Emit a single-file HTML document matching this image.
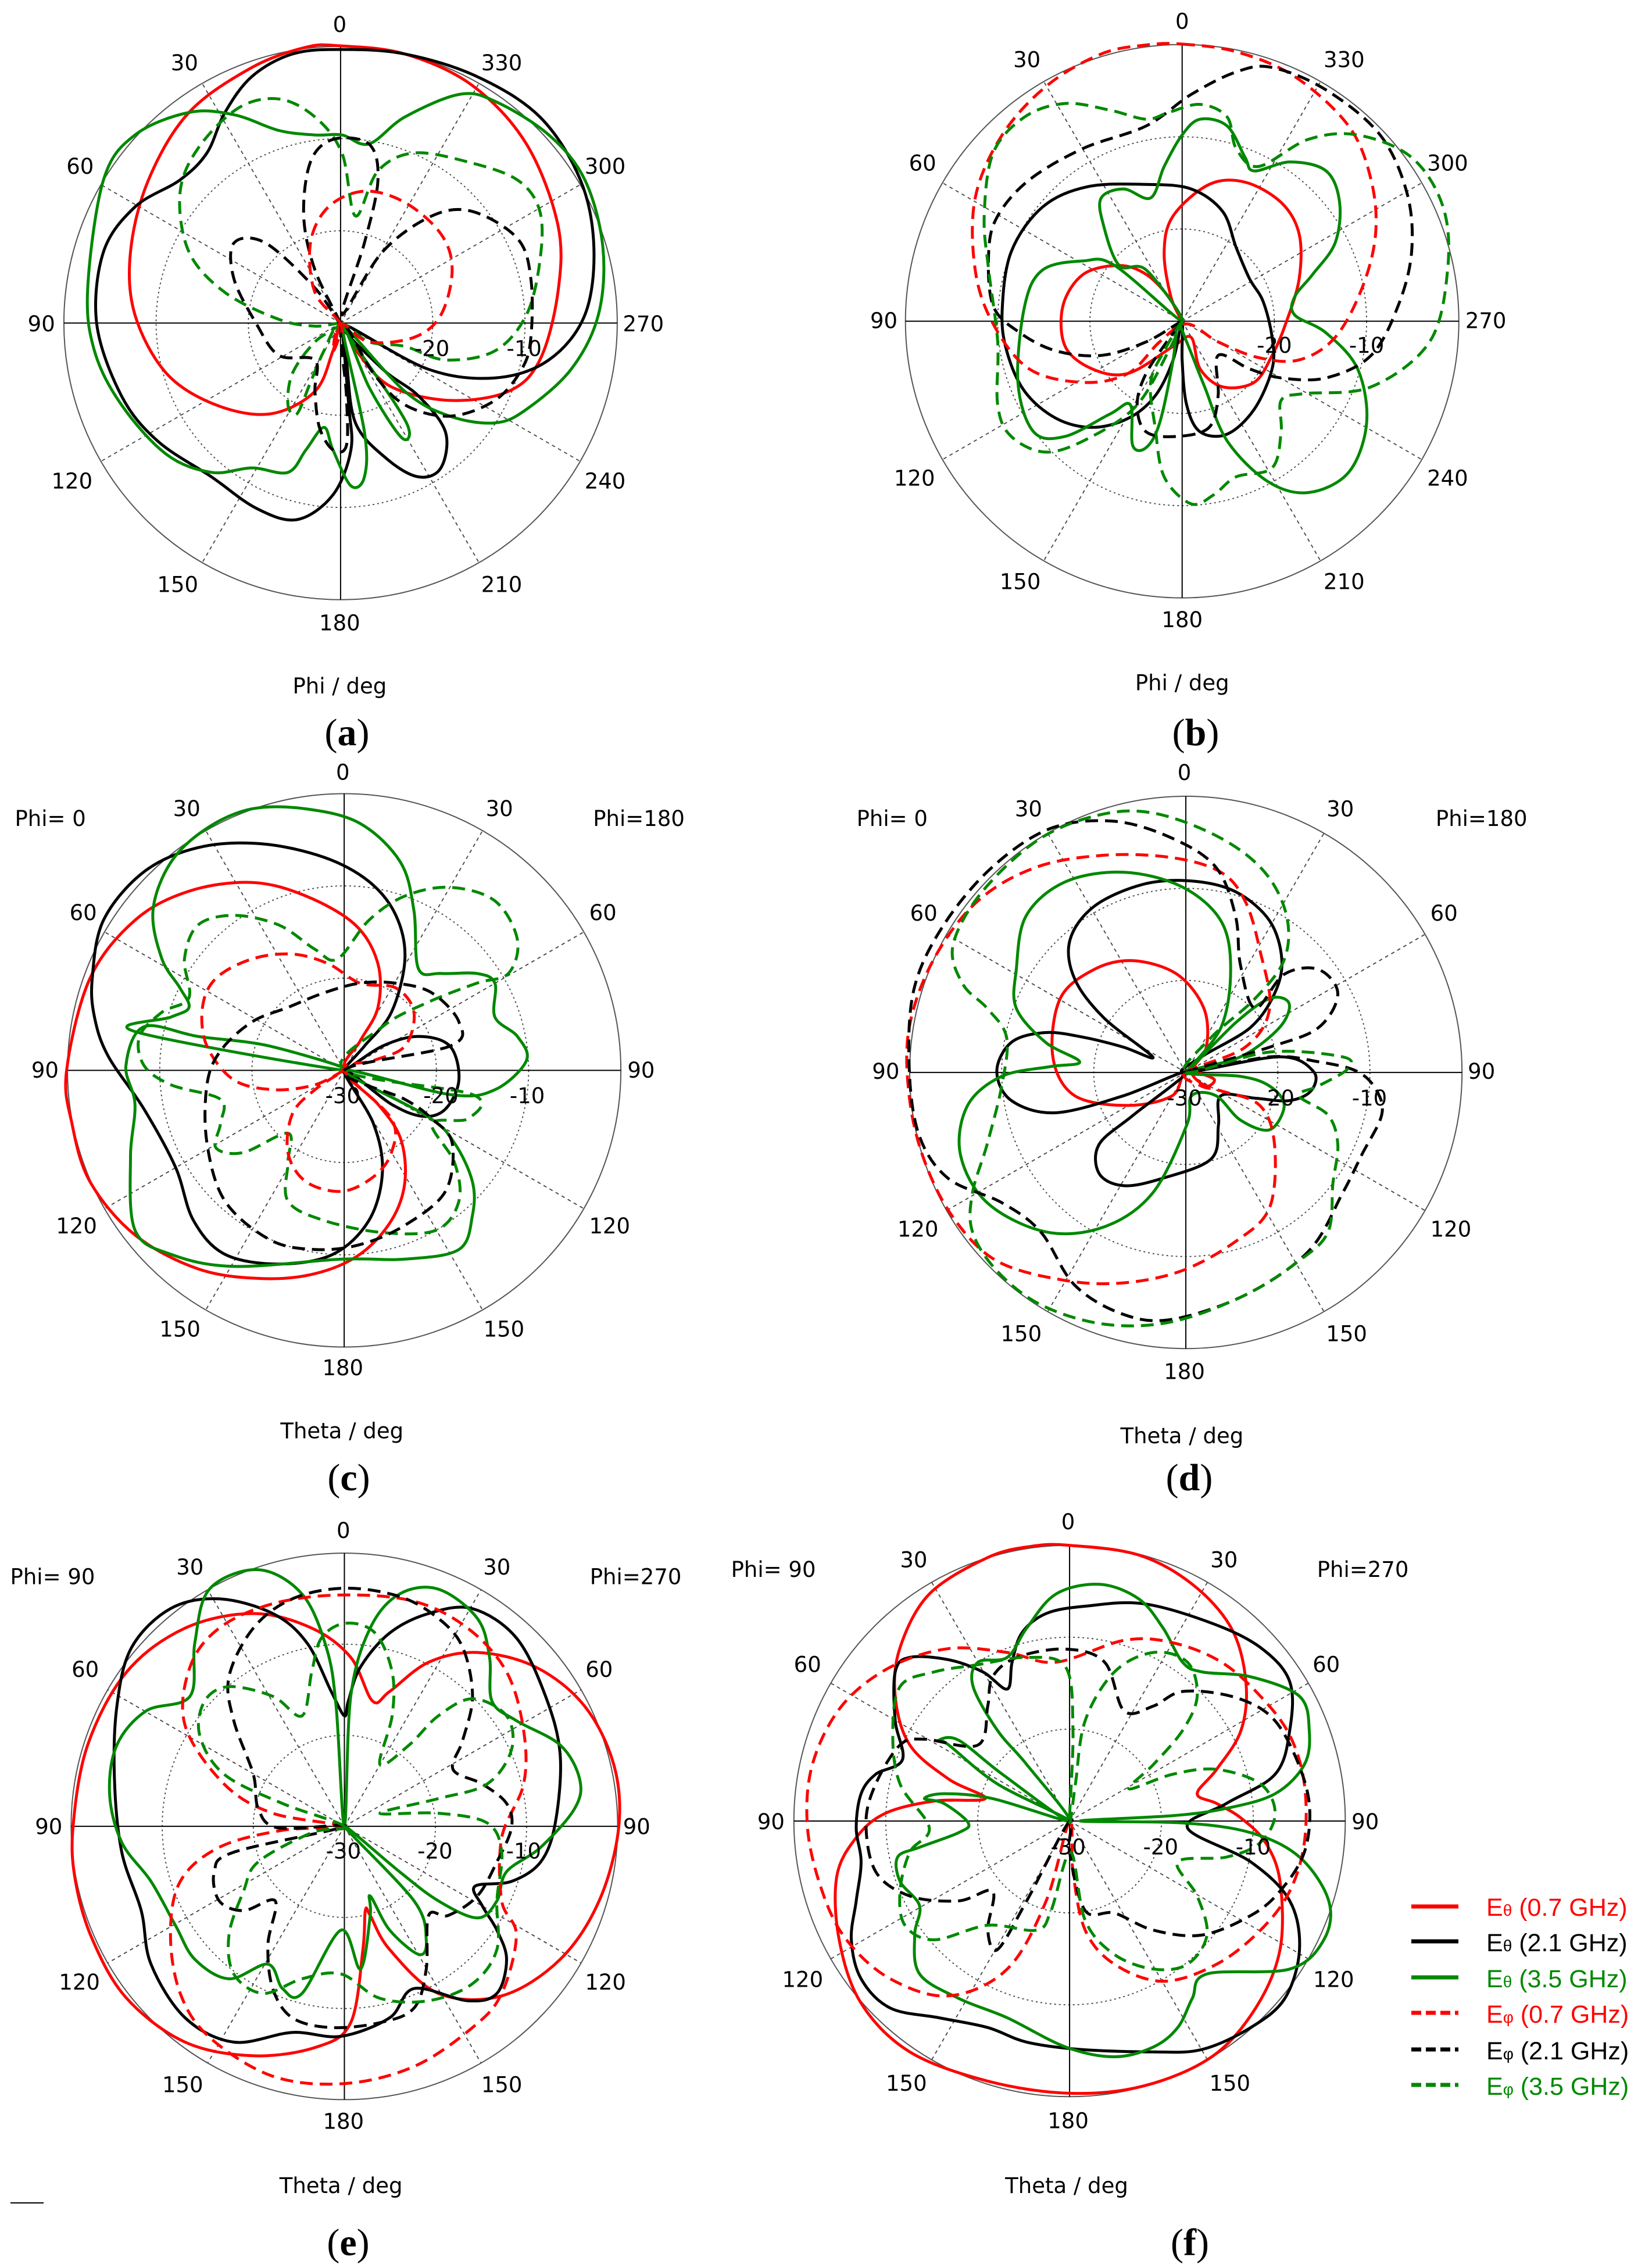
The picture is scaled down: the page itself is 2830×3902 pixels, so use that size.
<!DOCTYPE html>
<html><head><meta charset="utf-8">
<style>
html,body{margin:0;padding:0;background:#fff;}
svg{display:block;}
text{font-family:"DejaVu Sans","Liberation Sans",sans-serif;}
</style></head>
<body>
<svg id="s" xmlns="http://www.w3.org/2000/svg" width="2830" height="3902" viewBox="0 0 2830 3902">
<rect width="2830" height="3902" fill="#fff"/>
<g id="g"></g>
<!-- captions -->
<g font-family="Liberation Serif, serif" font-size="66" text-anchor="middle">
<text x="597" y="1282" style="font-family:'Liberation Serif',serif">(<tspan font-weight="bold">a</tspan>)</text>
<text x="2057" y="1282" style="font-family:'Liberation Serif',serif">(<tspan font-weight="bold">b</tspan>)</text>
<text x="600" y="2564" style="font-family:'Liberation Serif',serif">(<tspan font-weight="bold">c</tspan>)</text>
<text x="2046" y="2564" style="font-family:'Liberation Serif',serif">(<tspan font-weight="bold">d</tspan>)</text>
<text x="599" y="3880" style="font-family:'Liberation Serif',serif">(<tspan font-weight="bold">e</tspan>)</text>
<text x="2047" y="3880" style="font-family:'Liberation Serif',serif">(<tspan font-weight="bold">f</tspan>)</text>
</g>
<line x1="18" y1="3790" x2="75" y2="3790" stroke="#000" stroke-width="2"/>
<!-- legend -->
<g stroke-width="7">
<line x1="2428" y1="3280" x2="2509" y2="3280" stroke="#f00"/>
<line x1="2428" y1="3340" x2="2509" y2="3340" stroke="#000"/>
<line x1="2428" y1="3402" x2="2509" y2="3402" stroke="#080"/>
<line x1="2428" y1="3463" x2="2509" y2="3463" stroke="#f00" stroke-dasharray="17 8"/>
<line x1="2428" y1="3526" x2="2509" y2="3526" stroke="#000" stroke-dasharray="17 8"/>
<line x1="2428" y1="3587" x2="2509" y2="3587" stroke="#080" stroke-dasharray="17 8"/>
</g>
<g font-size="43" style="font-family:'Liberation Sans',sans-serif">
<text x="2557" y="3296" fill="#f00" style="font-family:'Liberation Sans',sans-serif">E<tspan font-size="28">θ</tspan> (0.7 GHz)</text>
<text x="2557" y="3357" fill="#000" style="font-family:'Liberation Sans',sans-serif">E<tspan font-size="28">θ</tspan> (2.1 GHz)</text>
<text x="2557" y="3419" fill="#080" style="font-family:'Liberation Sans',sans-serif">E<tspan font-size="28">θ</tspan> (3.5 GHz)</text>
<text x="2557" y="3480" fill="#f00" style="font-family:'Liberation Sans',sans-serif">E<tspan font-size="28">φ</tspan> (0.7 GHz)</text>
<text x="2557" y="3543" fill="#000" style="font-family:'Liberation Sans',sans-serif">E<tspan font-size="28">φ</tspan> (2.1 GHz)</text>
<text x="2557" y="3604" fill="#080" style="font-family:'Liberation Sans',sans-serif">E<tspan font-size="28">φ</tspan> (3.5 GHz)</text>
</g>
</svg>
<script>
var NS="http://www.w3.org/2000/svg",G=document.getElementById("g");
function el(t,a,txt){var e=document.createElementNS(NS,t);for(var k in a)e.setAttribute(k,a[k]);if(txt!=null)e.textContent=txt;G.appendChild(e);return e;}
function cr(P){var n=P.length,d="M"+P[0][0].toFixed(1)+","+P[0][1].toFixed(1);
for(var i=0;i<n;i++){var p0=P[(i-1+n)%n],p1=P[i],p2=P[(i+1)%n],p3=P[(i+2)%n];
var c1=[p1[0]+(p2[0]-p0[0])/6,p1[1]+(p2[1]-p0[1])/6],c2=[p2[0]-(p3[0]-p1[0])/6,p2[1]-(p3[1]-p1[1])/6];
d+="C"+c1[0].toFixed(1)+","+c1[1].toFixed(1)+" "+c2[0].toFixed(1)+","+c2[1].toFixed(1)+" "+p2[0].toFixed(1)+","+p2[1].toFixed(1);}
return d+"Z";}
var COL={r:"#f00",k:"#000",g:"#080"};
function panel(p){
 var T=function(q){return [p.ox+q[0]*p.sx,p.oy+q[1]*p.sy];};
 var c=T([p.cx,p.cy]),R=p.R*p.sx;
 el("circle",{cx:c[0],cy:c[1],r:R,fill:"none",stroke:"#555","stroke-width":2});
 [1/3,2/3].forEach(function(f){el("circle",{cx:c[0],cy:c[1],r:R*f,fill:"none",stroke:"#444","stroke-width":1.8,"stroke-dasharray":"3 5"});});
 for(var a=30;a<360;a+=30){if(a%90==0)continue;var t=a*Math.PI/180;
  el("line",{x1:c[0],y1:c[1],x2:c[0]+R*Math.sin(t),y2:c[1]-R*Math.cos(t),stroke:"#444","stroke-width":1.8,"stroke-dasharray":"6 6"});}
 el("line",{x1:c[0]-R,y1:c[1],x2:c[0]+R,y2:c[1],stroke:"#000","stroke-width":2});
 el("line",{x1:c[0],y1:c[1]-R,x2:c[0],y2:c[1]+R,stroke:"#000","stroke-width":2});
 p.curves.forEach(function(cv){var P=cv[2].map(T);
  var a={d:cr(P),fill:"none",stroke:COL[cv[0]],"stroke-width":5,"stroke-linejoin":"round"};
  if(cv[1])a["stroke-dasharray"]="22 12";el("path",a);});
 p.labels.forEach(function(l){var q=T([l[1],l[2]]);
  el("text",{x:q[0],y:q[1],"text-anchor":"middle","dominant-baseline":"central","font-size":l[3]||37,fill:"#000"},l[0]);});
}
var degA=[["0",755,55],["30",410,140],["330",1115,140],["60",178,370],["300",1345,370],["90",92,720],["270",1430,720],["120",160,1070],["240",1345,1070],["150",395,1300],["210",1115,1300],["180",755,1385],["-20",960,775],["-10",1165,775],["Phi / deg",755,1525]];
panel({ox:0,oy:0,sx:0.774,sy:0.774,cx:757,cy:718,R:615,labels:degA,curves:[
["r",0,[[757,102],[900,120],[1050,190],[1170,320],[1240,500],[1240,650],[1200,800],[1130,870],[1000,890],[870,860],[800,790],[760,720],[740,780],[700,870],[600,920],[480,900],[370,830],[300,700],[290,560],[330,400],[420,250],[560,150],[680,105]]],
["k",0,[[757,110],[900,120],[1060,170],[1200,260],[1290,400],[1320,550],[1300,700],[1220,800],[1100,840],[950,820],[760,720],[850,820],[930,880],[990,960],[980,1040],[930,1060],[860,1020],[790,940],[770,800],[760,720],[775,900],[780,1000],[740,1100],[660,1155],[570,1130],[470,1060],[350,980],[270,880],[215,720],[230,560],[300,460],[400,400],[460,340],[500,250],[560,170],[650,120]]],
["g",0,[[195,640],[230,400],[300,300],[420,250],[520,255],[620,290],[700,300],[760,300],[820,320],[900,260],[1020,210],[1100,225],[1220,300],[1300,400],[1340,550],[1330,700],[1270,820],[1170,910],[1100,940],[1000,925],[900,870],[760,720],[880,900],[910,960],[890,970],[820,860],[760,720],[810,960],[810,1060],[780,1080],[740,1000],[720,950],[680,1000],[640,1050],[560,1040],[470,1050],[370,1010],[270,900],[210,780]]],
["g",1,[[757,720],[700,725],[620,710],[500,650],[420,560],[400,430],[440,330],[530,240],[620,220],[700,260],[760,340],[790,480],[840,380],[920,340],[1040,360],[1150,400],[1200,470],[1200,580],[1170,700],[1100,780],[990,800],[900,770],[820,760],[757,720],[720,780],[690,850],[660,920],[640,900],[650,830],[700,760]]],
["k",1,[[757,720],[700,600],[675,480],[690,360],[740,310],[820,320],[840,400],[810,540],[760,700],[850,560],[960,480],[1050,470],[1150,530],[1180,620],[1180,750],[1160,820],[1100,890],[1000,925],[900,900],[830,830],[760,720],[770,880],[770,990],[740,1000],[710,950],[700,870],[700,800],[620,790],[570,720],[520,620],[520,540],[590,540],[700,640]]],
["r",1,[[757,720],[700,650],[690,540],[730,460],[810,425],[900,450],[980,520],[1005,600],[980,700],[920,750],[820,760],[757,720],[740,780],[750,760]]]
]});
var degB=degA.map(function(l){return [l[0],l[1]+25,l[2]-7];});
panel({ox:1430,oy:0,sx:0.774,sy:0.774,cx:780,cy:714,R:615,labels:degB,curves:[
["r",0,[[780,714],[750,660],[700,610],[640,590],[560,610],[515,680],[520,770],[580,820],[660,830],[760,770],[800,750],[820,820],[870,860],[940,850],[980,790],[1010,720],[1040,620],[1040,520],[1000,450],[920,405],[840,410],[760,480],[740,560],[755,660]]],
["k",0,[[380,690],[400,560],[470,460],[570,415],[700,410],[800,420],[870,470],[900,550],[930,620],[960,670],[980,750],[980,820],[940,910],[880,965],[820,960],[790,900],[780,800],[780,714],[760,800],[720,880],[660,930],[580,950],[500,930],[430,870],[390,780]]],
["g",0,[[780,714],[700,600],[640,590],[605,500],[600,440],[650,420],[710,440],[740,370],[780,300],[820,265],[880,280],[920,350],[940,380],[1020,360],[1100,380],[1130,450],[1120,540],[1070,610],[1030,660],[1030,700],[1100,740],[1170,820],[1190,940],[1150,1050],[1060,1095],[970,1070],[880,980],[830,860],[790,760],[770,720],[760,800],[730,940],[700,995],[670,990],[665,900],[620,920],[520,970],[450,960],[415,850],[430,680],[470,600],[560,580],[630,590]]],
["r",1,[[780,98],[900,115],[1030,170],[1150,280],[1200,400],[1210,520],[1180,640],[1120,750],[1040,800],[950,795],[860,760],[790,720],[730,760],[660,830],[560,850],[440,820],[360,720],[320,600],[320,440],[380,300],[480,190],[600,120],[700,100]]],
["k",1,[[780,714],[700,760],[600,790],[500,780],[420,740],[360,680],[350,560],[370,480],[440,400],[560,330],[700,280],[800,210],[900,160],[980,150],[1100,200],[1220,300],[1280,430],[1290,560],[1260,680],[1200,790],[1100,840],[1000,840],[930,820],[860,790],[860,880],[840,950],[770,970],[700,960],[680,900],[700,830],[760,740]]],
["g",1,[[780,714],[740,780],[710,850],[720,950],[740,1060],[800,1120],[850,1100],[900,1060],[980,1040],[1000,960],[1000,890],[1050,875],[1200,860],[1330,760],[1370,600],[1360,460],[1290,350],[1170,300],[1060,310],[950,370],[900,330],[880,260],[820,232],[750,250],[700,265],[620,245],[520,230],[430,260],[360,340],[340,480],[350,600],[370,760],[370,900],[400,970],[480,1005],[580,970],[680,900],[750,780]]]
]});
panel({ox:0,oy:1300,sx:0.774,sy:0.833,cx:765,cy:650,R:615,labels:[["0",762,35],["30",415,110],["30",1110,110],["Phi=  0",112,130],["Phi=180",1420,130],["60",185,325],["60",1340,325],["90",100,650],["90",1425,650],["120",170,972],["120",1355,972],["150",400,1185],["150",1120,1185],["180",762,1265],["-30",762,703],["-20",980,703],["-10",1172,703],["Theta / deg",760,1395]],curves:[
["r",0,[[148,650],[200,460],[300,340],[420,280],[560,262],[680,290],[790,350],[840,430],[840,520],[800,590],[765,650],[840,720],[890,790],[900,880],[870,960],[800,1030],[700,1070],[580,1080],[440,1060],[300,990],[200,880],[160,760]]],
["k",0,[[205,460],[230,340],[320,240],[440,190],[580,182],[720,210],[820,260],[880,330],[900,420],[870,530],[810,600],[765,650],[850,600],[930,580],[1000,600],[1020,670],[990,730],[940,745],[870,720],[765,650],[830,760],[850,860],[820,960],[740,1030],[620,1050],[500,1030],[430,960],[390,850],[320,730],[240,620],[210,540]]],
["g",0,[[765,650],[600,600],[440,580],[320,560],[280,640],[300,720],[290,830],[300,980],[380,1030],[520,1055],[760,1040],[900,1040],[1020,1020],[1050,950],[1050,880],[1010,800],[950,745],[765,650],[1000,700],[1100,690],[1170,630],[1150,580],[1100,540],[1100,470],[1060,450],[980,450],[930,440],[920,320],[890,220],[800,140],[680,110],[560,110],[460,150],[380,220],[340,320],[360,420],[400,480],[420,520],[380,540],[300,570]]],
["g",1,[[765,650],[850,560],[950,510],[1060,470],[1130,450],[1150,380],[1100,300],[1000,272],[900,290],[820,340],[750,420],[700,400],[620,350],[520,330],[440,350],[410,420],[420,500],[360,530],[310,580],[320,640],[380,680],[490,710],[490,760],[480,810],[540,820],[640,780],[640,840],[640,920],[720,960],[850,985],[970,980],[1020,920],[1010,840],[960,760],[1040,750],[1050,700]]],
["r",1,[[765,650],[700,680],[610,690],[520,670],[460,600],[450,520],[480,460],[560,420],[650,410],[730,430],[800,470],[880,480],[920,530],[900,600],[830,630],[765,650],[870,750],[870,820],[830,870],[760,900],[680,880],[640,820],[650,740],[700,690]]],
["k",1,[[765,650],[1000,600],[1020,550],[960,490],[880,470],[800,470],[720,490],[640,520],[560,550],[490,610],[460,680],[460,800],[500,920],[600,1000],[700,1020],[800,1010],[900,970],[990,900],[1005,800],[960,750],[900,710]]]
]});
panel({ox:1430,oy:1300,sx:0.838,sy:0.836,cx:728,cy:652,R:567,labels:[["0",725,35],["30",405,110],["30",1045,110],["Phi=  0",125,130],["Phi=180",1335,130],["60",190,325],["60",1258,325],["90",112,650],["90",1335,650],["120",178,975],["120",1272,975],["150",390,1190],["150",1058,1190],["180",725,1268],["-30",725,705],["-20",915,705],["-10",1105,705],["Theta / deg",720,1400]],curves:[
["r",0,[[728,652],[700,700],[610,720],[500,700],[455,620],[470,500],[540,440],[620,422],[710,450],[765,520],[770,600],[740,650],[770,680],[785,665]]],
["k",0,[[660,620],[560,540],[500,460],[490,380],[540,310],[640,265],[740,258],[830,280],[900,340],[925,420],[910,490],[860,560],[760,620],[728,652],[920,620],[990,650],[985,690],[940,710],[870,705],[800,700],[795,760],[780,830],[680,870],[600,885],[550,860],[550,800],[620,740],[728,652],[600,700],[460,735],[370,710],[340,650],[370,590],[440,570],[520,580],[600,600]]],
["g",0,[[728,652],[800,560],[820,440],[800,340],[720,270],[600,240],[480,260],[400,330],[380,440],[380,520],[440,590],[510,630],[450,640],[350,660],[280,720],[265,820],[320,920],[440,980],[560,970],[660,900],[730,760],[740,700],[790,700],[840,750],[900,770],[930,720],[900,680],[840,660],[728,652],[840,620],[920,560],[940,510],[900,500],[830,550]]],
["r",1,[[728,652],[850,600],[900,520],[880,400],[850,300],[800,240],[700,210],[560,205],[420,230],[300,300],[210,420],[160,560],[160,700],[190,830],[250,950],[340,1040],[480,1080],[600,1085],[720,1060],[830,1000],[900,930],[910,800],[880,720],[800,690],[760,680]]],
["k",1,[[728,652],[900,600],[1000,560],[1040,490],[1000,440],[930,450],[870,520],[840,430],[830,330],[790,230],[700,170],[580,135],[450,150],[330,230],[230,350],[170,480],[160,640],[180,780],[240,870],[350,920],[430,980],[500,1090],[600,1150],[700,1160],[850,1110],[980,1020],[1050,900],[1090,820],[1130,740],[1120,690],[1080,650],[1000,630],[900,620]]],
["g",1,[[728,652],[900,610],[1050,620],[1060,645],[1000,680],[960,700],[1020,740],[1040,800],[1030,880],[1020,980],[960,1040],[850,1110],[700,1165],[560,1170],[430,1130],[340,1060],[290,980],[290,900],[320,800],[350,680],[360,580],[320,520],[270,470],[250,390],[310,280],[430,170],[560,120],[670,120],[800,170],[890,240],[935,330],[930,420],[870,500],[780,580]]]
]});
panel({ox:0,oy:2600,sx:0.838,sy:0.838,cx:707,cy:647,R:561,labels:[["0",705,40],["30",390,115],["30",1020,115],["Phi= 90",108,135],["Phi=270",1305,135],["60",175,325],["60",1230,325],["90",100,648],["90",1307,648],["120",163,967],["120",1243,967],["150",375,1178],["150",1030,1178],["180",705,1253],["-30",705,698],["-20",893,698],["-10",1075,698],["Theta / deg",700,1385]],curves:[
["r",0,[[150,647],[180,480],[260,330],[380,240],[520,210],[640,240],[720,300],[765,390],[800,370],[880,310],[980,290],[1100,320],[1200,400],[1260,520],[1270,650],[1230,800],[1150,920],[1030,995],[900,990],[800,900],[760,830],[750,820],[745,900],[720,1050],[650,1100],[520,1118],[380,1090],[260,1000],[190,880],[155,760]]],
["k",0,[[707,420],[680,370],[630,270],[560,210],[450,180],[350,200],[270,280],[240,400],[235,550],[250,700],[290,820],[310,930],[380,1040],[480,1090],[600,1070],[700,1078],[800,1040],[850,980],[960,1005],[1020,990],[1040,920],[1020,860],[990,810],[975,770],[1050,760],[1110,720],[1140,640],[1150,500],[1120,380],[1060,260],[970,200],[880,210],[800,250],[740,320],[715,390]]],
["g",0,[[707,647],[690,400],[670,280],[620,170],[530,120],[430,160],[400,270],[390,380],[300,410],[240,480],[225,580],[250,680],[310,760],[360,850],[400,920],[470,960],[550,930],[580,980],[620,990],[700,860],[740,940],[760,830],[760,790],[800,860],[860,910],[875,880],[850,800],[707,647],[820,740],[900,800],[980,835],[1020,800],[1040,740],[1110,690],[1180,610],[1190,550],[1150,480],[1060,430],[1010,390],[1005,300],[980,220],[900,160],[820,170],[760,240],[720,380]]],
["r",1,[[707,647],[560,620],[460,560],[380,440],[390,320],[450,240],[560,190],[700,172],[850,185],[960,240],[1040,330],[1075,450],[1075,560],[1030,670],[1030,800],[1060,870],[1030,990],[970,1060],[850,1140],[707,1175],[560,1160],[430,1080],[370,990],[350,870],[370,760],[450,690],[580,655]]],
["k",1,[[707,647],[570,650],[530,610],[520,540],[480,430],[470,340],[520,240],[600,180],[707,158],[820,175],[900,220],[950,280],[970,380],[950,470],[930,530],[990,560],[1040,600],[1050,650],[1020,720],[980,790],[920,830],[880,830],[875,940],[850,1020],[780,1050],[680,1060],[600,1040],[560,980],[550,890],[565,800],[500,820],[450,800],[440,740],[480,700]]],
["g",1,[[707,647],[580,600],[460,540],[410,460],[420,390],[470,360],[560,380],[620,420],[640,330],[660,260],[710,230],[770,250],[805,330],[805,420],[780,520],[840,480],[900,420],[970,385],[1040,420],[1050,490],[1000,560],[900,590],[780,620],[900,620],[1000,640],[1030,700],[1020,800],[1020,900],[970,970],[880,1005],[780,1000],[700,950],[620,960],[540,990],[480,950],[470,870],[500,780],[530,720],[640,660]]]
]});
panel({ox:1230,oy:2600,sx:0.838,sy:0.838,cx:728,cy:636,R:566,labels:[["0",725,22],["30",408,100],["30",1045,100],["Phi= 90",120,120],["Phi=270",1330,120],["60",190,315],["60",1255,315],["90",115,638],["90",1335,638],["120",180,962],["120",1270,962],["150",393,1175],["150",1057,1175],["180",725,1252],["-30",725,690],["-20",915,690],["-10",1105,690],["Theta / deg",722,1385]],curves:[
["r",0,[[728,70],[870,90],[980,150],[1060,240],[1090,350],[1080,450],[1030,530],[990,580],[1030,600],[1080,630],[1130,680],[1160,760],[1160,900],[1110,1020],[1020,1120],[880,1180],[728,1195],[560,1170],[400,1110],[300,1010],[255,880],[250,750],[290,670],[350,620],[450,595],[555,590],[480,550],[400,480],[370,380],[380,280],[440,170],[560,95],[650,72]]],
["k",0,[[600,365],[550,330],[480,305],[400,300],[370,330],[370,430],[385,510],[330,540],[300,580],[290,650],[300,720],[290,800],[280,880],[300,960],[360,1020],[460,1040],[560,1060],[640,1090],[750,1105],[900,1110],[1000,1105],[1100,1060],[1170,1000],[1200,900],[1180,800],[1100,720],[970,650],[1050,600],[1150,540],[1180,450],[1180,350],[1120,280],[1020,230],[880,190],[760,195],[680,210],[630,250],[610,310]]],
["g",0,[[728,636],[580,560],[480,480],[460,470],[500,470],[590,540],[728,636],[640,520],[580,450],[530,360],[540,310],[600,300],[640,240],[700,170],[790,150],[870,180],[920,240],[960,310],[1000,330],[1100,340],[1200,380],[1220,450],[1210,520],[1150,580],[1050,610],[940,625],[750,636],[960,640],[1100,660],[1200,710],[1260,800],[1250,880],[1180,940],[1010,950],[980,1000],[950,1060],[900,1100],[820,1120],[720,1100],[600,1040],[500,1000],[420,950],[410,870],[420,810],[380,760],[375,710],[420,690],[500,660],[520,640],[470,600],[430,590],[470,580],[570,590]]],
["r",1,[[728,636],[680,800],[600,940],[480,995],[360,960],[270,880],[220,780],[190,650],[200,520],[260,400],[360,320],[480,282],[600,290],[700,310],[840,265],[940,270],[1040,310],[1120,380],[1180,460],[1210,560],[1210,680],[1180,780],[1120,860],[1030,930],[920,965],[820,930],[760,860],[735,740]]],
["k",1,[[728,636],[640,800],[580,900],[560,860],[570,780],[500,800],[400,790],[330,740],[310,640],[330,560],[380,480],[430,468],[540,480],[560,400],[570,340],[620,300],[720,283],[800,310],[840,410],[900,400],[960,370],[1060,380],[1140,420],[1190,500],[1220,600],[1210,700],[1160,780],[1100,830],[1000,870],[900,860],[820,825],[760,820],[728,700]]],
["g",1,[[728,636],[740,560],[760,430],[820,330],[900,290],[970,310],[990,380],[960,450],[900,520],[850,570],[940,540],[1030,530],[1120,560],[1150,620],[1120,680],[1050,710],[950,720],[990,790],[1010,870],[970,930],[900,940],[820,910],[760,840],[730,700],[690,820],[660,860],[560,850],[450,880],[390,850],[380,780],[400,700],[440,650],[380,560],[365,460],[380,360],[450,330],[540,315],[640,300],[720,320],[735,450]]]
]});
</script>
</body></html>
